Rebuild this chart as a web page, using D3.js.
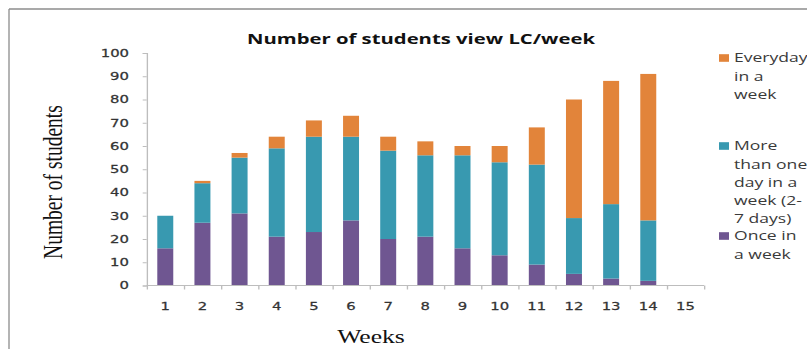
<!DOCTYPE html>
<html>
<head>
<meta charset="utf-8">
<script src="https://cdn.jsdelivr.net/npm/d3@7"></script>
<style>
  html, body { margin: 0; padding: 0; background: #fff; }
  svg { display: block; }
</style>
</head>
<body>
<svg id="chart" width="807" height="349"></svg>
<script>
// ---- data ----
const weeks = ["1","2","3","4","5","6","7","8","9","10","11","12","13","14","15"];
const onceInWeek = [16, 27, 31, 21, 23, 28, 20, 21, 16, 13, 9, 5, 3, 2, 0];
const moreThanOne = [14, 17, 24, 38, 41, 36, 38, 35, 40, 40, 43, 24, 32, 26, 0];
const everyday = [0, 1, 2, 5, 7, 9, 6, 6, 4, 7, 16, 51, 53, 63, 0];
const yTicks = [0, 10, 20, 30, 40, 50, 60, 70, 80, 90, 100];
const seriesKeys = ["once", "more", "everyday"];
const seriesColors = { once: "#6F5691", more: "#3899B0", everyday: "#E2843A" };
const legendItems = [
  { key: "everyday", lines: ["Everyday", "in a", "week"] },
  { key: "more", lines: ["More", "than one", "day in a", "week (2-", "7 days)"] },
  { key: "once", lines: ["Once in", "a week"] }
];
const titleText = "Number of students view LC/week";
const yTitle = "Number of students";
const xTitle = "Weeks";

// ---- layout (picture is a horizontally stretched chart) ----
const S = 1.35;                  // horizontal stretch
const X = v => v / S;            // outer x -> inner x
const plotLeft = 146.7, plotRight = 704, axisY = 285.5, topY = 53;

const svg = d3.select("#chart");
// frame lines
svg.append("line").attr("x1", 9).attr("y1", 9).attr("x2", 807).attr("y2", 9)
  .attr("stroke", "#8c8c8c").attr("stroke-width", 1.3);
svg.append("line").attr("x1", 9).attr("y1", 9).attr("x2", 9).attr("y2", 349)
  .attr("stroke", "#8c8c8c").attr("stroke-width", 1.3);

const g = svg.append("g").attr("transform", `scale(${S},1)`);

const table = weeks.map((w, i) => ({ week: w, once: onceInWeek[i], more: moreThanOne[i], everyday: everyday[i] }));
const stacked = d3.stack().keys(seriesKeys)(table);

const x = d3.scaleBand().domain(weeks).range([X(plotLeft), X(plotRight)])
  .paddingInner(0.57).paddingOuter(0.285);
const xEdges = d3.scaleLinear().domain([0, weeks.length]).range([X(plotLeft), X(plotRight)]);
const y = d3.scaleLinear().domain([0, 100]).range([axisY, topY]);

// bars
g.append("g").selectAll("g").data(stacked).join("g")
  .attr("fill", d => seriesColors[d.key])
  .selectAll("rect").data(d => d).join("rect")
  .attr("x", d => x(d.data.week))
  .attr("width", x.bandwidth())
  .attr("y", d => y(d[1]))
  .attr("height", d => y(d[0]) - y(d[1]));

const axisColor = "#bdbdbd";
// y axis
const yAxis = g.append("g").attr("transform", `translate(${X(plotLeft)},0)`)
  .call(d3.axisLeft(y).tickValues(yTicks).tickSize(4 / S).tickPadding(0).tickFormat(d3.format("d")));
yAxis.select(".domain").attr("stroke", axisColor);
yAxis.selectAll(".tick line").attr("stroke", axisColor);
yAxis.selectAll(".tick text").remove();
g.append("g").selectAll("text").data(yTicks).join("text")
  .attr("x", X(129)).attr("y", d => y(d)).attr("dy", "0.36em")
  .attr("text-anchor", "end")
  .attr("font-family", "DejaVu Sans").attr("font-size", 11).attr("fill", "#333")
  .attr("stroke", "#333").attr("stroke-width", 0.25)
  .text(d => d);

// x axis
const xAxis = g.append("g").attr("transform", `translate(0,${axisY})`)
  .call(d3.axisBottom(xEdges).tickValues(d3.range(0, weeks.length + 1)).tickSize(4).tickFormat(""));
xAxis.select(".domain").attr("stroke", axisColor).attr("d", `M${X(plotLeft)},0H${X(plotRight)}`);
xAxis.selectAll(".tick line").attr("stroke", axisColor);
g.append("g").selectAll("text").data(weeks).join("text")
  .attr("x", d => x(d) + x.bandwidth() / 2).attr("y", 310)
  .attr("text-anchor", "middle")
  .attr("font-family", "DejaVu Sans").attr("font-size", 11).attr("fill", "#333")
  .attr("stroke", "#333").attr("stroke-width", 0.25)
  .text(d => d);

// title
g.append("text").attr("x", X(421)).attr("y", 44).attr("text-anchor", "middle")
  .attr("font-family", "Open Sans").attr("font-weight", "bold").attr("font-size", 14.5)
  .attr("fill", "#111").attr("textLength", X(348)).attr("lengthAdjust", "spacingAndGlyphs")
  .text(titleText);

// axis titles
g.append("text").attr("transform", `translate(${X(61.5)},182) rotate(-90)`)
  .attr("text-anchor", "middle").attr("font-family", "Liberation Serif").attr("font-size", 19.5)
  .attr("fill", "#111").text(yTitle);
g.append("text").attr("x", X(371)).attr("y", 343.5).attr("text-anchor", "middle")
  .attr("font-family", "Liberation Serif").attr("font-size", 19).attr("fill", "#111").text(xTitle);

// legend
const legendFirstLine = [58, 146, 236];
const lineGap = 18.2;
const leg = g.append("g");
legendItems.forEach((item, i) => {
  const cy = legendFirstLine[i];
  leg.append("rect").attr("x", X(719)).attr("y", cy - 3.8).attr("width", X(10)).attr("height", 7.6)
    .attr("fill", seriesColors[item.key]);
  const t = leg.append("text").attr("font-family", "Open Sans").attr("font-size", 13).attr("fill", "#3a3a3a");
  item.lines.forEach((ln, j) => {
    t.append("tspan").attr("x", X(734)).attr("y", cy + j * lineGap + 4.5).text(ln);
  });
});
</script>
</body>
</html>
